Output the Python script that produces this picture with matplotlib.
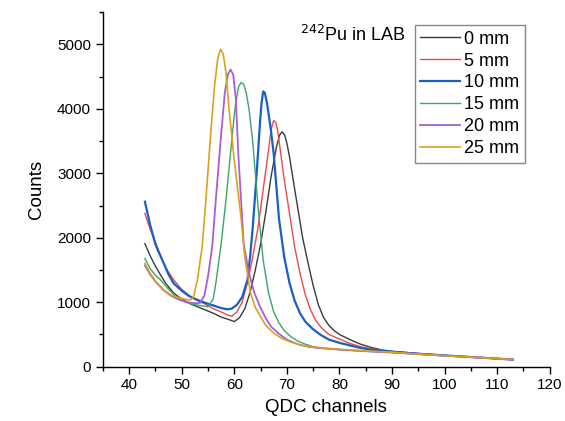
import numpy as np
import matplotlib
matplotlib.use('Agg')
import matplotlib.pyplot as plt
from matplotlib.ticker import MultipleLocator

plt.rcParams['font.family'] = ['Liberation Sans', 'DejaVu Sans']

# values (channel, counts)
x_0mm = [43, 44, 45, 46, 47, 48.5, 50, 51.5, 53, 54.5, 56, 57.5, 59, 60, 61, 62, 63, 64, 65, 66, 67, 68, 68.6, 69.1, 69.6, 70, 70.5, 71, 72, 73, 74, 75, 76, 77, 78, 79, 80, 82, 84, 86, 88, 90, 95, 100, 105, 110, 113]
y_0mm = [1910, 1720, 1560, 1420, 1290, 1140, 1050, 980, 930, 880, 830, 770, 730, 700, 760, 900, 1150, 1500, 1900, 2400, 2950, 3400, 3590, 3645, 3590, 3470, 3260, 3000, 2500, 2000, 1620, 1260, 960, 760, 640, 560, 500, 420, 350, 300, 260, 240, 205, 175, 150, 125, 110]

x_5mm = [43, 44, 45, 46, 47, 48.5, 50, 51.5, 53, 54.5, 56, 57.5, 58.5, 59.5, 60.5, 61.5, 62.5, 63.5, 64.5, 65.5, 66.5, 67, 67.5, 67.9, 68.3, 68.8, 69.5, 70.5, 71.5, 72.5, 73.5, 74.5, 75.5, 76.5, 78, 80, 82, 84, 86, 88, 90, 95, 100, 105, 110, 113]
y_5mm = [2380, 2130, 1930, 1720, 1530, 1345, 1200, 1100, 1030, 970, 900, 850, 810, 780, 850, 1000, 1300, 1700, 2150, 2750, 3350, 3680, 3820, 3790, 3640, 3330, 2900, 2380, 1850, 1450, 1120, 880, 720, 610, 500, 430, 360, 310, 280, 250, 230, 200, 170, 145, 125, 110]

x_10mm = [43, 44, 45, 45.5, 46.5, 47.5, 48.5, 50, 51.5, 53, 54.5, 56, 57.5, 58.7, 59.5, 60.5, 61.5, 62.5, 63, 63.5, 64, 64.5, 64.9, 65.2, 65.5, 65.8, 66.2, 66.6, 67, 67.5, 68.5, 69.5, 70.5, 71.5, 72.5, 73.5, 75, 76.5, 78, 80, 82, 84, 86, 88, 90, 95, 100, 105, 110, 113]
y_10mm = [2560, 2200, 1900, 1800, 1620, 1430, 1290, 1180, 1090, 1035, 990, 950, 910, 890, 900, 960, 1080, 1345, 1700, 2150, 2700, 3300, 3800, 4100, 4270, 4250, 4100, 3880, 3650, 3300, 2300, 1700, 1300, 1020, 830, 700, 580, 490, 420, 370, 330, 290, 265, 245, 230, 200, 175, 150, 125, 110]

x_15mm = [43, 44, 45, 46, 47.5, 49, 50.5, 52, 53.5, 55, 56, 56.5, 57, 57.5, 58.5, 59.5, 60.2, 60.8, 61.3, 61.8, 62.3, 62.8, 63.5, 64.5, 65.5, 66.5, 67.5, 68.5, 69.5, 70.7, 72, 73.5, 75, 77, 80, 85, 90, 95, 100, 105, 110, 113]
y_15mm = [1680, 1520, 1420, 1345, 1200, 1080, 1010, 970, 950, 930, 1050, 1300, 1600, 1900, 2650, 3500, 4050, 4340, 4410, 4380, 4240, 4000, 3500, 2500, 1650, 1150, 850, 680, 560, 470, 400, 350, 310, 285, 265, 240, 220, 195, 170, 150, 125, 110]

x_20mm = [43, 44, 45, 46.5, 48, 49.5, 51, 52.5, 53.5, 54.3, 55, 55.8, 56.5, 57.5, 58.2, 58.8, 59.3, 59.8, 60.3, 60.8, 61.8, 62.8, 63.8, 64.8, 66, 67, 68.5, 70, 72, 74, 76, 80, 85, 90, 95, 100, 105, 110, 113]
y_20mm = [1570, 1430, 1320, 1190, 1100, 1040, 1000, 985, 990, 1100, 1400, 1860, 2600, 3600, 4250, 4540, 4610, 4530, 4150, 3250, 1900, 1450, 1150, 950, 750, 620, 510, 420, 350, 310, 290, 265, 240, 220, 195, 170, 150, 125, 110]

x_25mm = [43, 44, 45, 46.6, 48, 49.8, 51, 51.7, 52.3, 53, 53.9, 54.7, 55.5, 56.3, 56.9, 57.4, 57.9, 58.4, 59, 60, 61.2, 62, 63.1, 64, 65, 66, 67.5, 69, 70.5, 72.6, 75, 77, 80, 85, 90, 95, 100, 105, 110, 113]
y_25mm = [1600, 1450, 1330, 1190, 1110, 1060, 1040, 1035, 1100, 1350, 1860, 2700, 3600, 4400, 4800, 4925, 4850, 4580, 4000, 3200, 2380, 1700, 1140, 920, 775, 640, 520, 440, 390, 335, 305, 290, 270, 245, 225, 195, 170, 150, 125, 110]

labels = ['0 mm', '5 mm', '10 mm', '15 mm', '20 mm', '25 mm']
colors = ['#3a3a3a', '#ec4a4a', '#1a5fc4', '#3aa56a', '#a95ed6', '#d9a21b']
widths = [1.0, 1.0, 1.6, 1.0, 1.3, 1.2]

series = [(x_0mm, y_0mm), (x_5mm, y_5mm), (x_10mm, y_10mm),
          (x_15mm, y_15mm), (x_20mm, y_20mm), (x_25mm, y_25mm)]

fig = plt.figure(figsize=(5.65, 4.21), dpi=100)
ax = fig.add_axes([0.182, 0.129, 0.791, 0.842])

for (xs, ys), lab, c, w in zip(series, labels, colors, widths):
    ax.plot(xs, ys, color=c, lw=w, label=lab)

ax.set_xlim(35, 120)
ax.set_ylim(0, 5500)
ax.xaxis.set_minor_locator(MultipleLocator(5))
ax.yaxis.set_major_locator(MultipleLocator(1000))
ax.yaxis.set_minor_locator(MultipleLocator(500))
ax.set_xticks(np.arange(40, 121, 10))
ax.tick_params(which='major', direction='out', length=5, width=1, labelsize=11)
ax.tick_params(which='minor', direction='out', length=3, width=1)
for s in ['top', 'right']:
    ax.spines[s].set_visible(False)
for s in ['left', 'bottom']:
    ax.spines[s].set_linewidth(1)

ax.set_xlabel('QDC channels', fontsize=13.5, labelpad=5)
ax.set_ylabel('Counts', fontsize=13.5, labelpad=9)

leg = ax.legend(loc='upper left', bbox_to_anchor=(0.698, 0.963), borderaxespad=0,
                fontsize=13, fancybox=False, framealpha=1, edgecolor='#888888',
                handlelength=2.2, handletextpad=0.25, labelspacing=0.27,
                borderpad=0.3)
leg.get_frame().set_linewidth(1)

ax.text(0.677, 0.935, r'$^{242}$Pu in LAB', transform=ax.transAxes,
        ha='right', va='center', fontsize=13)

fig.savefig('out.png', dpi=100)
